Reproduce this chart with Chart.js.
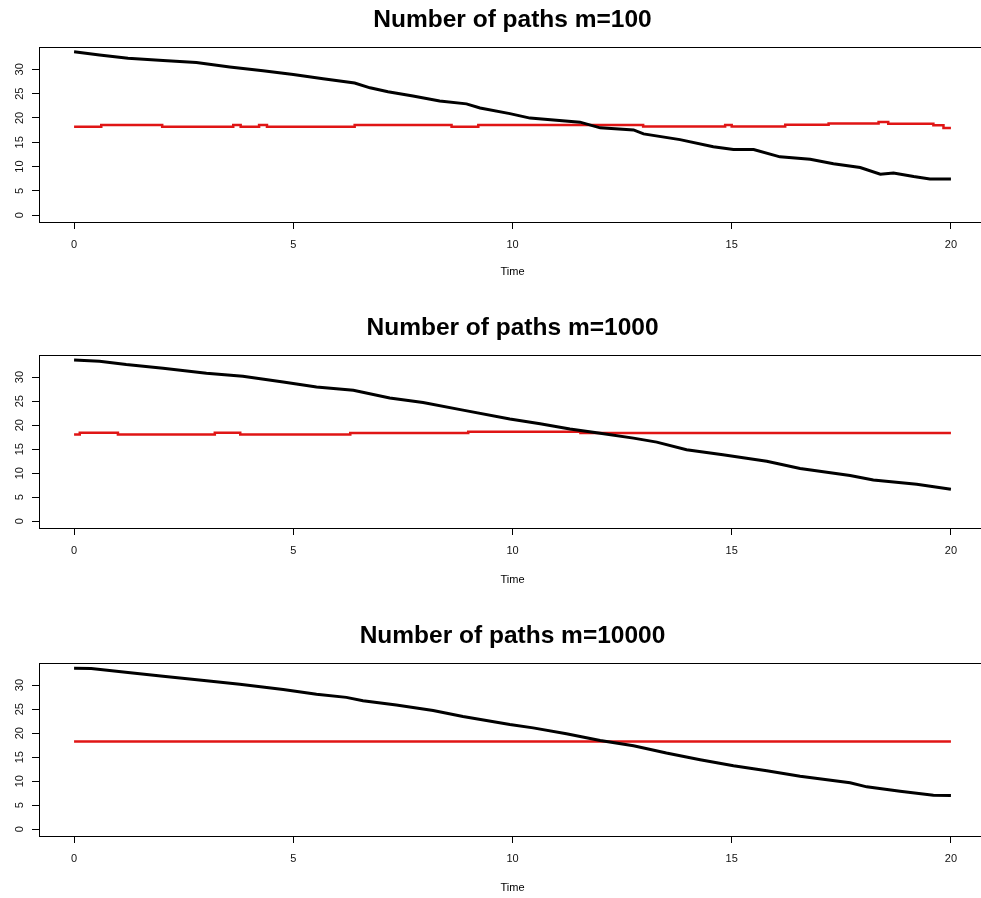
<!DOCTYPE html>
<html><head><meta charset="utf-8">
<script src="https://cdn.jsdelivr.net/npm/chart.js@4.4.1/dist/chart.umd.min.js"></script>
<style>
html,body{margin:0;padding:0;background:#fff;overflow:hidden;width:981px;height:898px;position:relative;}
.panel{position:absolute;left:0;width:986px;height:308px;}
.panel canvas{display:block;}
</style></head><body>
<div class="panel" style="top:0px"><canvas id="c1" width="986" height="308"></canvas></div>
<div class="panel" style="top:308px"><canvas id="c2" width="986" height="308"></canvas></div>
<div class="panel" style="top:616px"><canvas id="c3" width="986" height="308"></canvas></div>
<script>
const titles = ['Number of paths m=100', 'Number of paths m=1000', 'Number of paths m=10000'];
const xLabel = 'Time';
const xTicks = [0, 5, 10, 15, 20];
const yTicks = [0, 5, 10, 15, 20, 25, 30];

// Panel 1 (m=100)
const blackT1 = [0, 0.58, 1.23, 2.03, 2.79, 3.55, 4.31, 5.0, 5.68, 6.40, 6.75, 7.16, 7.73, 8.34, 8.95, 9.26, 9.94, 10.40, 11.54, 12.0, 12.76, 12.99, 13.82, 14.58, 15.04, 15.5, 16.1, 16.79, 17.32, 17.93, 18.39, 18.69, 19.15, 19.52, 20.0];
const blackV1 = [33.6, 32.96, 32.27, 31.8, 31.4, 30.5, 29.7, 28.96, 28.06, 27.2, 26.2, 25.4, 24.5, 23.5, 22.9, 22.05, 20.9, 19.97, 19.14, 17.97, 17.55, 16.72, 15.55, 14.1, 13.5, 13.5, 12.0, 11.5, 10.6, 9.8, 8.43, 8.7, 7.95, 7.46, 7.46];
const redT1 = [0, 0.62, 2.01, 3.63, 3.80, 4.22, 4.40, 6.40, 8.61, 9.22, 12.98, 14.85, 15.0, 16.22, 17.21, 18.35, 18.57, 19.6, 19.83, 20];
const redV1 = [18.2, 18.55, 18.2, 18.55, 18.2, 18.55, 18.2, 18.55, 18.2, 18.55, 18.25, 18.55, 18.25, 18.6, 18.85, 19.15, 18.8, 18.5, 17.95, 17.95];

// Panel 2 (m=1000)
const blackT2 = [0, 0.58, 1.19, 2.03, 3.02, 3.85, 4.77, 5.53, 6.37, 7.2, 7.96, 8.87, 9.94, 10.63, 11.31, 12.0, 12.76, 13.29, 13.97, 14.8, 15.8, 16.56, 17.7, 18.23, 19.22, 20.0];
const blackV2 = [33.56, 33.3, 32.6, 31.85, 30.8, 30.2, 28.96, 27.93, 27.25, 25.67, 24.7, 23.13, 21.28, 20.3, 19.2, 18.3, 17.3, 16.47, 14.9, 13.86, 12.5, 11.0, 9.54, 8.58, 7.69, 6.66];
const redT2 = [0, 0.13, 1.0, 3.21, 3.79, 6.3, 8.99, 11.55, 20];
const redV2 = [18.05, 18.4, 18.05, 18.4, 18.05, 18.35, 18.65, 18.35, 18.35];

// Panel 3 (m=10000)
const blackT3 = [0, 0.39, 1.23, 2.03, 3.02, 3.78, 4.77, 5.53, 6.21, 6.59, 7.35, 8.19, 8.87, 9.94, 10.47, 11.23, 12.0, 12.76, 13.51, 14.28, 15.04, 15.8, 16.56, 17.7, 18.08, 18.84, 19.6, 20.0];
const blackV3 = [33.5, 33.45, 32.6, 31.86, 30.9, 30.2, 29.1, 28.1, 27.45, 26.76, 25.86, 24.7, 23.45, 21.8, 21.1, 19.86, 18.48, 17.38, 15.86, 14.48, 13.24, 12.2, 11.03, 9.66, 8.83, 7.93, 7.1, 7.03];
const redT3 = [0, 20];
const redV3 = [18.28, 18.28];

const FONT = '"Liberation Sans", Arial, Helvetica, sans-serif';

const boxPlugin = {
  id: 'box',
  afterDraw(chart) {
    const {ctx, chartArea: a} = chart;
    ctx.save();
    ctx.strokeStyle = '#000';
    ctx.lineWidth = 1;
    ctx.strokeRect(Math.round(a.left) + 0.5, Math.round(a.top) + 0.5, Math.round(a.right - a.left), Math.round(a.bottom - a.top));
    ctx.restore();
  }
};

function pts(t, v) { return t.map((x, i) => ({x: x, y: v[i]})); }

function makeChart(id, title, bT, bV, rT, rV, xAxisHeight) {
  new Chart(document.getElementById(id), {
    type: 'line',
    data: {
      datasets: [
        {data: pts(bT, bV), borderColor: '#000', borderWidth: 3, pointRadius: 0, tension: 0, fill: false},
        {data: pts(rT, rV), borderColor: '#e01515', borderWidth: 2.5, pointRadius: 0, stepped: true, fill: false}
      ]
    },
    options: {
      responsive: false,
      animation: false,
      devicePixelRatio: 1,
      layout: {padding: 0},
      plugins: {
        legend: {display: false},
        tooltip: {enabled: false},
        title: {
          display: true, text: title, fullSize: false, color: '#000',
          font: {family: FONT, size: 24.5, weight: 'bold', lineHeight: 1.2},
          padding: {top: 6, bottom: 11.6}
        }
      },
      scales: {
        x: {
          type: 'linear', min: -0.8, max: 20.8,
          afterBuildTicks(s) { s.ticks = xTicks.map(v => ({value: v})); },
          afterFit(s) { s.height = xAxisHeight; },
          grid: {drawOnChartArea: false, drawTicks: true, tickLength: 7, color: '#000'},
          border: {display: true, color: '#000', width: 1},
          ticks: {autoSkip: false, maxRotation: 0, minRotation: 0, padding: 9, color: '#111', font: {family: FONT, size: 11}},
          title: {display: true, text: xLabel, color: '#000', font: {family: FONT, size: 11, lineHeight: 1.2}, padding: {top: 0, bottom: 29.4}}
        },
        y: {
          type: 'linear', min: -1.4, max: 34.6,
          afterBuildTicks(s) { s.ticks = yTicks.map(v => ({value: v})); },
          afterFit(s) { s.width = 39; },
          grid: {drawOnChartArea: false, drawTicks: true, tickLength: 7, color: '#000'},
          border: {display: true, color: '#000', width: 1},
          ticks: {autoSkip: false, minRotation: 90, maxRotation: 90, crossAlign: 'center', padding: 6, color: '#111', font: {family: FONT, size: 11}}
        }
      }
    },
    plugins: [boxPlugin]
  });
}

makeChart('c1', titles[0], blackT1, blackV1, redT1, redV1, 86);
makeChart('c2', titles[1], blackT2, blackV2, redT2, redV2, 88);
makeChart('c3', titles[2], blackT3, blackV3, redT3, redV3, 88);
</script>
</body></html>
